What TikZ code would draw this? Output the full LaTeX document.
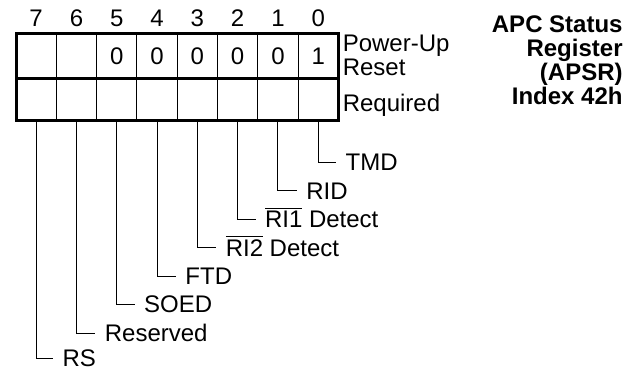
\documentclass[tikz,border=0pt]{standalone}
\usepackage{fontspec}
\setmainfont{Liberation Sans}
\usetikzlibrary{positioning}

\begin{document}
\begin{tikzpicture}[
    font=\fontsize{12}{10.5}\selectfont,
    cell/.style={rectangle, draw, line width=0.5pt, minimum width=20.15pt,
                 minimum height=22.5pt, inner sep=0pt, outer sep=0pt,
                 text height=8.6pt, text depth=0pt},
    req/.style={cell, minimum height=21pt},
    bitno/.style={inner sep=0pt, text height=8.6pt, text depth=0pt},
    field/.style={inner sep=0pt, text height=8.6pt, text depth=0pt},
    frame/.style={line width=1.5pt},
    lead/.style={line width=0.5pt}
  ]
  \useasboundingbox (0,0) rectangle (315.5pt,185.5pt);

  % ----- Power-up reset row -----
  \node[cell, anchor=north west] (c7) at (8pt,169pt) {};
  \node[cell, right=0pt of c7] (c6) {};
  \node[cell, right=0pt of c6] (c5) {0};
  \node[cell, right=0pt of c5] (c4) {0};
  \node[cell, right=0pt of c4] (c3) {0};
  \node[cell, right=0pt of c3] (c2) {0};
  \node[cell, right=0pt of c2] (c1) {0};
  \node[cell, right=0pt of c1] (c0) {1};

  % ----- Required row -----
  \node[req, below=0pt of c7] (r7) {};
  \node[req, right=0pt of r7] (r6) {};
  \node[req, right=0pt of r6] (r5) {};
  \node[req, right=0pt of r5] (r4) {};
  \node[req, right=0pt of r4] (r3) {};
  \node[req, right=0pt of r3] (r2) {};
  \node[req, right=0pt of r2] (r1) {};
  \node[req, right=0pt of r1] (r0) {};

  \draw[frame] (c7.north west) rectangle (r0.south east);
  \draw[frame] (r7.north west) -- (r0.north east);

  % ----- Bit numbers -----
  \node[bitno, above=3.2pt of c7] (b7) {7};
  \node[bitno, above=3.2pt of c6] (b6) {6};
  \node[bitno, above=3.2pt of c5] (b5) {5};
  \node[bitno, above=3.2pt of c4] (b4) {4};
  \node[bitno, above=3.2pt of c3] (b3) {3};
  \node[bitno, above=3.2pt of c2] (b2) {2};
  \node[bitno, above=3.2pt of c1] (b1) {1};
  \node[bitno, above=3.2pt of c0] (b0) {0};

  % ----- Row labels and title -----
  \node[inner sep=0pt, align=left, right=2pt of c0] (pwr) {Power-Up\\Reset};
  \node[field, right=2pt of r0, yshift=-2pt] (rqd) {Required};
  \node[inner sep=0pt, anchor=north east, align=right,
        font=\fontsize{12}{12}\selectfont\bfseries] (title) at (311.5pt,178pt)
        {APC Status\\Register\\(APSR)\\Index 42h};

  % ----- Bit fields -----
  \coordinate[below right=21pt and 9pt of r0.south] (t0);
  \coordinate[below right=35.3pt and 9.5pt of r1.south] (t1);
  \coordinate[below right=49.5pt and 9pt of r2.south] (t2);
  \coordinate[below right=63.8pt and 9.5pt of r3.south] (t3);
  \coordinate[below right=78pt and 9.5pt of r4.south] (t4);
  \coordinate[below right=92pt and 9pt of r5.south] (t5);
  \coordinate[below right=106.5pt and 9.5pt of r6.south] (t6);
  \coordinate[below right=119pt and 8.5pt of r7.south] (t7);
  \draw[lead] (r0.south) |- (t0);
  \draw[lead] (r1.south) |- (t1);
  \draw[lead] (r2.south) |- (t2);
  \draw[lead] (r3.south) |- (t3);
  \draw[lead] (r4.south) |- (t4);
  \draw[lead] (r5.south) |- (t5);
  \draw[lead] (r6.south) |- (t6);
  \draw[lead] (r7.south) |- (t7);
  \node[field, right=4.5pt of t0] (tmd) {TMD};
  \node[field, right=4.5pt of t1] (rid) {RID};
  \node[field, right=4.5pt of t2] (ri1) {$\overline{\mbox{RI1}}$ Detect};
  \node[field, right=4.5pt of t3] (ri2) {$\overline{\mbox{RI2}}$ Detect};
  \node[field, right=4.5pt of t4] (ftd) {FTD};
  \node[field, right=4.5pt of t5] (soed) {SOED};
  \node[field, right=4.5pt of t6] (rsvd) {Reserved};
  \node[field, right=4.5pt of t7] (rs) {RS};
\end{tikzpicture}
\end{document}
